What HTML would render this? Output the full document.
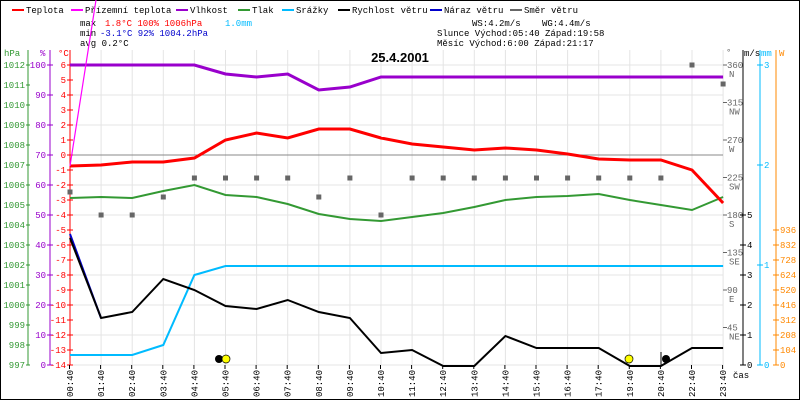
<!DOCTYPE html>
<html><head><meta charset="utf-8"><style>
body{margin:0;background:#fff}
svg{display:block;font-family:"Liberation Mono",monospace;font-size:9px}
</style></head><body>
<svg id="s" width="800" height="400" xmlns="http://www.w3.org/2000/svg"></svg>
<script>
const s=document.getElementById('s');let h='';
h+='<rect x="0.5" y="0.5" width="799" height="399" fill="#fff" stroke="#000"/>';
const X=i=>70+i*31.1;
// grid
for(let y=65;y<=365;y+=30)h+=`<line x1="70" x2="723" y1="${y}" y2="${y}" stroke="#e4e4e4"/>`;
for(let i=0;i<22;i++)h+=`<line x1="${X(i)}" x2="${X(i)}" y1="50" y2="365" stroke="#e4e4e4"/>`;
h+='<line x1="70" x2="723" y1="155" y2="155" stroke="#888"/>';
// legend
const leg=[["Teplota","#f00",12],["Přízemní teplota","#f0f",71],["Vlhkost","#90c",176],["Tlak","#393",238],["Srážky","#0bf",282],["Rychlost větru","#000",338],["Náraz větru","#00c",430],["Směr větru","#666",510]];
leg.forEach(l=>{h+=`<rect x="${l[2]}" y="9" width="12" height="2" fill="${l[1]}"/><text x="${l[2]+14}" y="13">${l[0]}</text>`});
h+='<text x="80" y="26">max</text><text x="105" y="26" fill="#f00">1.8°C 100%  1006hPa</text><text x="225" y="26" fill="#0bf">1.0mm</text>';
h+='<text x="80" y="36">min</text><text x="100" y="36" fill="#00c">-3.1°C  92%  1004.2hPa</text>';
h+='<text x="80" y="46">avg  0.2°C</text>';
h+='<text x="472" y="26">WS:4.2m/s</text><text x="542" y="26">WG:4.4m/s</text>';
h+='<text x="437" y="36">Slunce Východ:05:40  Západ:19:58</text>';
h+='<text x="437" y="46">Měsíc  Východ:6:00   Západ:21:17</text>';
h+='<text x="400" y="62" font-family="Liberation Sans,sans-serif" font-weight="bold" font-size="13" text-anchor="middle">25.4.2001</text>';
// left axes
h+='<line x1="28" x2="28" y1="50" y2="365" stroke="#393"/><line x1="50" x2="50" y1="50" y2="365" stroke="#90c"/><line x1="70" x2="70" y1="50" y2="365" stroke="#f00"/>';
h+='<text x="4" y="56" fill="#393">hPa</text><text x="40" y="56" fill="#90c">%</text><text x="58" y="56" fill="#f00">°C</text>';
for(let k=0;k<=15;k++){let y=65+20*k;h+=`<line x1="26" x2="30" y1="${y}" y2="${y}" stroke="#393"/><text x="25" y="${y+3}" text-anchor="end" fill="#393">${1012-k}</text>`}
for(let k=0;k<=10;k++){let y=65+30*k;h+=`<line x1="47" x2="53" y1="${y}" y2="${y}" stroke="#90c"/><text x="46" y="${y+3}" text-anchor="end" fill="#90c">${100-10*k}</text>`}
for(let k=0;k<=20;k++){let y=65+15*k;h+=`<line x1="67" x2="73" y1="${y}" y2="${y}" stroke="#f00"/><text x="66" y="${y+3}" text-anchor="end" fill="#f00">${6-k}</text>`}
// right axes
const dirs=["N","NW","W","SW","S","SE","E","NE"];
h+='<text x="726" y="55" fill="#666">°</text>';
for(let k=0;k<8;k++){let y=65+37.5*k;h+=`<line x1="723" x2="727" y1="${y}" y2="${y}" stroke="#666"/><text x="727" y="${y+3}" fill="#666">${360-45*k}</text><text x="729" y="${y+12}" fill="#666">${dirs[k]}</text>`}
h+='<line x1="743" x2="743" y1="50" y2="365" stroke="#000"/><line x1="760" x2="760" y1="50" y2="365" stroke="#0bf"/><line x1="776" x2="776" y1="50" y2="365" stroke="#f80"/>';
h+='<text x="744" y="56">m/s</text><text x="761" y="56" fill="#0bf">mm</text><text x="779" y="56" fill="#f80">W</text>';
for(let k=0;k<=5;k++){let y=365-30*k;h+=`<line x1="740" x2="746" y1="${y}" y2="${y}" stroke="#000"/><text x="747" y="${y+3}">${k}</text>`}
for(let k=0;k<=3;k++){let y=365-100*k;h+=`<line x1="757" x2="763" y1="${y}" y2="${y}" stroke="#0bf"/><text x="764" y="${y+3}" fill="#0bf">${k}</text>`}
for(let k=0;k<=9;k++){let y=365-15*k;h+=`<line x1="773" x2="779" y1="${y}" y2="${y}" stroke="#f80"/><text x="780" y="${y+3}" fill="#f80">${104*k}</text>`}
// time labels
const hrs=["00","01","02","03","04","05","06","07","08","09","10","11","12","13","14","15","16","17","19","20","22","23"];
hrs.forEach((t,i)=>{let x=X(i)+3;h+=`<line x1="${X(i)-0.5}" x2="${X(i)-0.5}" y1="365" y2="369" stroke="#000"/><text transform="translate(${x},370) rotate(-90)" text-anchor="end">${t}:40</text>`});
h+='<text x="733" y="378">čas</text>';
const line=(ys,c,w)=>{h+=`<polyline fill="none" stroke="${c}" stroke-width="${w}" points="${ys.map((y,i)=>X(i)+','+y).join(' ')}"/>`};
// wind dir squares
[192,215,215,197,178,178,178,178,197,178,215,178,178,178,178,178,178,178,178,178,65,84].forEach((y,i)=>h+=`<rect x="${X(i)-2.5}" y="${y-2.5}" width="5" height="5" fill="#666"/>`);
line([355,355,355,345,275,266,266,266,266,266,266,266,266,266,266,266,266,266,266,266,266,266],"#0bf",2);
h+='<polyline fill="none" stroke="#00c" stroke-width="2" points="70,234 101,318"/>';
line([238,318,312,279,290,306,309,300,312,318,353,350,366,366,336,348,348,348,366,366,348,348],"#000",2);
line([198,197,198,191,185,195,197,204,214,219,221,217,213,207,200,197,196,194,200,205,210,197],"#393",2);
line([65,65,65,65,65,74,77,74,90,87,77,77,77,77,77,77,77,77,77,77,77,77],"#90c",3);
line([166,165,162,162,158,140,133,138,129,129,138,144,147,150,148,150,154,159,160,160,170,203],"#f00",3);
h+='<polyline fill="none" stroke="#f0f" stroke-width="1.2" points="70,166 96,0"/>';
// sun/moon
h+='<circle cx="219" cy="359" r="4" fill="#000"/><circle cx="226" cy="359" r="4" fill="#ff0" stroke="#000" stroke-width="0.7"/>';
h+='<circle cx="629" cy="359" r="4" fill="#ff0" stroke="#000" stroke-width="0.7"/><circle cx="666" cy="359" r="4" fill="#000"/><line x1="661" x2="661" y1="352" y2="365" stroke="#000"/>';
s.innerHTML=h;
</script>
</body></html>
